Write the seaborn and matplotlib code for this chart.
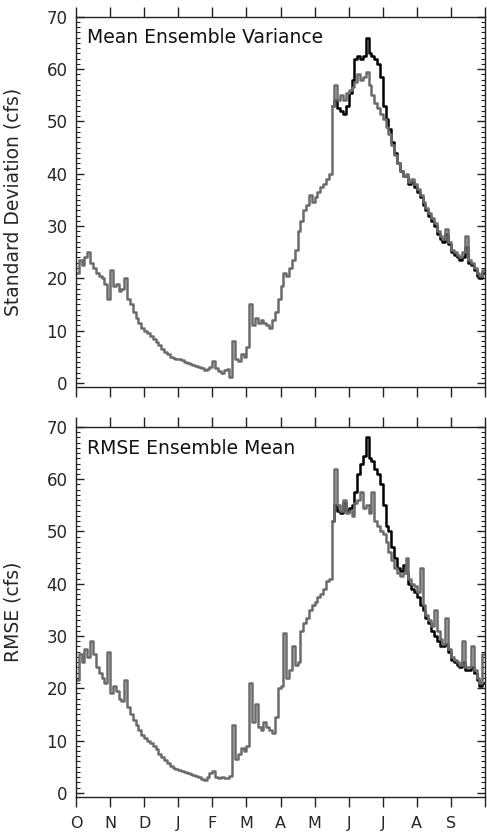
import numpy as np
import pandas as pd
import matplotlib
matplotlib.use("Agg")
import matplotlib.pyplot as plt
import seaborn as sns
from matplotlib.ticker import MultipleLocator

# ---- data (12 samples per month, water year Oct..Sep) ----
months = ["O", "N", "D", "J", "F", "M", "A", "M", "J", "J", "A", "S"]
per_month = 12

spread_gray = [
    21, 23.5, 22.5, 24, 25, 23, 22, 21, 20.5, 20, 19, 16,
    21.5, 18.5, 19, 17.5, 18, 20, 16, 15, 13.5, 12.5, 11.5, 10.5,
    10, 9.5, 9, 8.5, 7.8, 7.2, 6.5, 6, 5.5, 5.0, 4.8, 4.6,
    4.5, 4.3, 4.0, 3.8, 3.6, 3.4, 3.2, 3.0, 2.8, 2.4, 2.6, 3.0,
    4.2, 2.8, 2.2, 2.0, 2.4, 2.6, 1.2, 8.0, 4.5, 4.2, 5.5, 5.0,
    6.8, 15, 11, 12.5, 11.5, 12, 11.5, 11, 10.5, 12, 13.5, 16,
    18.5, 21, 20.5, 22, 23.5, 25.5, 29, 31, 33, 34, 36, 34.5,
    35.5, 36.5, 37.5, 38, 39, 40, 53, 57, 54, 55, 54, 55.5,
    56, 56.5, 57.5, 59, 58, 58.5, 59.5, 57, 55, 53.5, 52.5, 51.5,
    50.5, 49, 47.5, 45.5, 43.5, 42, 40.5, 39.5, 40, 38.5, 39, 38,
    37, 36, 34.5, 33.5, 32.5, 31.5, 30.5, 29, 28, 27.5, 29.5, 27,
    25.5, 25, 24.5, 24, 25, 28, 23.5, 23, 22, 21, 20.5, 21.5,
]
# black series, starting mid-May (index 90)
spread_black = [
    53, 54, 52.5, 52, 51.5, 53,
    55.5, 58, 62, 62.5, 62, 62.5, 66, 63, 62.5, 62, 61, 58.5,
    53, 50.5, 48.5, 46, 44, 42, 40.5, 39.5, 39.5, 38, 38.5, 37.5,
    36.5, 35.5, 34, 33, 32, 31, 30, 28.5, 27.5, 27, 28.5, 26.5,
    25, 24.5, 24, 23.5, 24, 26, 23, 22.5, 21.5, 20.5, 20, 21,
]

rmse_gray = [
    21.5, 26.5, 25, 27.5, 26, 29, 26.5, 24, 23, 22, 21, 27,
    19, 20.5, 19.5, 18, 17.5, 21.5, 16.5, 15, 14, 13, 12, 11,
    10.5, 10, 9.5, 9, 8.3, 7.5, 6.8, 6.2, 5.6, 5.1, 4.8, 4.5,
    4.3, 4.1, 4.0, 3.8, 3.6, 3.4, 3.2, 3.0, 2.6, 2.5, 3.0, 3.8,
    4.2, 3.0, 2.8, 3.0, 2.9, 2.9, 3.2, 13, 6.5, 7.5, 8.5, 8.0,
    9.0, 21, 13.5, 17, 12.5, 12, 13.5, 12.5, 12, 11.5, 14.5, 20,
    20.5, 30.5, 22, 23.5, 28, 24.5, 25, 31, 32.5, 33.5, 35, 36,
    36.5, 37.5, 38, 39, 40.5, 41, 52, 62, 55, 54, 56, 53.5,
    54, 53, 55.5, 56, 57.5, 54.5, 55, 53.5, 57.5, 52, 51, 50,
    49.5, 48, 46, 44.5, 43, 42, 41.5, 42, 45, 41, 40, 39.5,
    38.5, 43, 36, 34, 33, 32, 35, 31, 29.5, 28.5, 33.5, 27.5,
    26, 25.5, 25, 24.5, 29, 24, 24, 28, 23.5, 22, 21, 26.5,
]
rmse_black = [
    52, 55, 54, 53.5, 55.5, 54,
    54.5, 55, 57.5, 61, 63, 64.5, 68, 64, 63.5, 62, 61, 59,
    55, 51, 50, 47, 45, 43, 42.5, 43.5, 42, 40, 39, 38.5,
    37.5, 36, 35, 33.5, 32.5, 31, 30, 29, 28, 28, 28.5, 27,
    25.5, 25, 24.5, 24, 25, 23.5, 23.5, 24, 23, 21.5, 20.5, 21,
]

panel_titles = ["Mean Ensemble Variance", "RMSE Ensemble Mean"]
ylabels = ["Standard Deviation (cfs)", "RMSE (cfs)"]

def frame(values, start):
    x = (start + np.arange(len(values) + 1)) / per_month
    y = list(values) + [values[-1]]
    return pd.DataFrame({"month": x, "value": y})

sns.set_style("ticks")
plt.rcParams["font.family"] = ["DejaVu Sans"]

fig = plt.figure(figsize=(4.87, 8.38), dpi=100)
ax_top = fig.add_axes([0.156, 0.538, 0.840, 0.442])
ax_bot = fig.add_axes([0.156, 0.049, 0.840, 0.4415])

series = [(spread_gray, spread_black), (rmse_gray, rmse_black)]
gray = "#6b6b6b"
for i, ax in enumerate([ax_top, ax_bot]):
    g, b = series[i]
    sns.lineplot(data=frame(b, 90), x="month", y="value", ax=ax,
                 color="black", lw=1.8, drawstyle="steps-post",
                 estimator=None, sort=False)
    sns.lineplot(data=frame(g, 0), x="month", y="value", ax=ax,
                 color=gray, lw=1.8, drawstyle="steps-post",
                 estimator=None, sort=False)
    ax.set_xlim(0, 12)
    ax.set_ylim(-0.8, 70)
    for s in ax.spines.values():
        s.set_visible(True)
        s.set_linewidth(1.0)
        s.set_color("#222222")
    ax.set_xticks(np.arange(0, 13))
    ax.yaxis.set_major_locator(MultipleLocator(10))
    ax.yaxis.set_minor_locator(MultipleLocator(1))
    ax.tick_params(axis="x", which="both", direction="out", length=7,
                   width=1.0, top=True, bottom=True, color="#222222")
    ax.tick_params(axis="y", which="major", direction="in", length=6,
                   width=1.0, left=True, right=True, labelsize=12,
                   pad=6, color="#222222")
    ax.tick_params(axis="y", which="minor", direction="in", length=3,
                   width=0.8, left=True, right=True, color="#222222")
    ax.set_xlabel("")
    ax.set_ylabel(ylabels[i], fontsize=13.5)
    ax.yaxis.set_label_coords(-0.13, 0.5)
    ax.text(0.027, 0.943, panel_titles[i], transform=ax.transAxes,
            fontsize=13.5, ha="left", va="center", color="#111111")

ax_top.set_xticklabels([])
ax_bot.set_xticks(np.arange(0, 13), labels=months + [""])
ax_bot.tick_params(axis="x", labelsize=11.5, pad=7)

fig.savefig("out.png", dpi=100)
